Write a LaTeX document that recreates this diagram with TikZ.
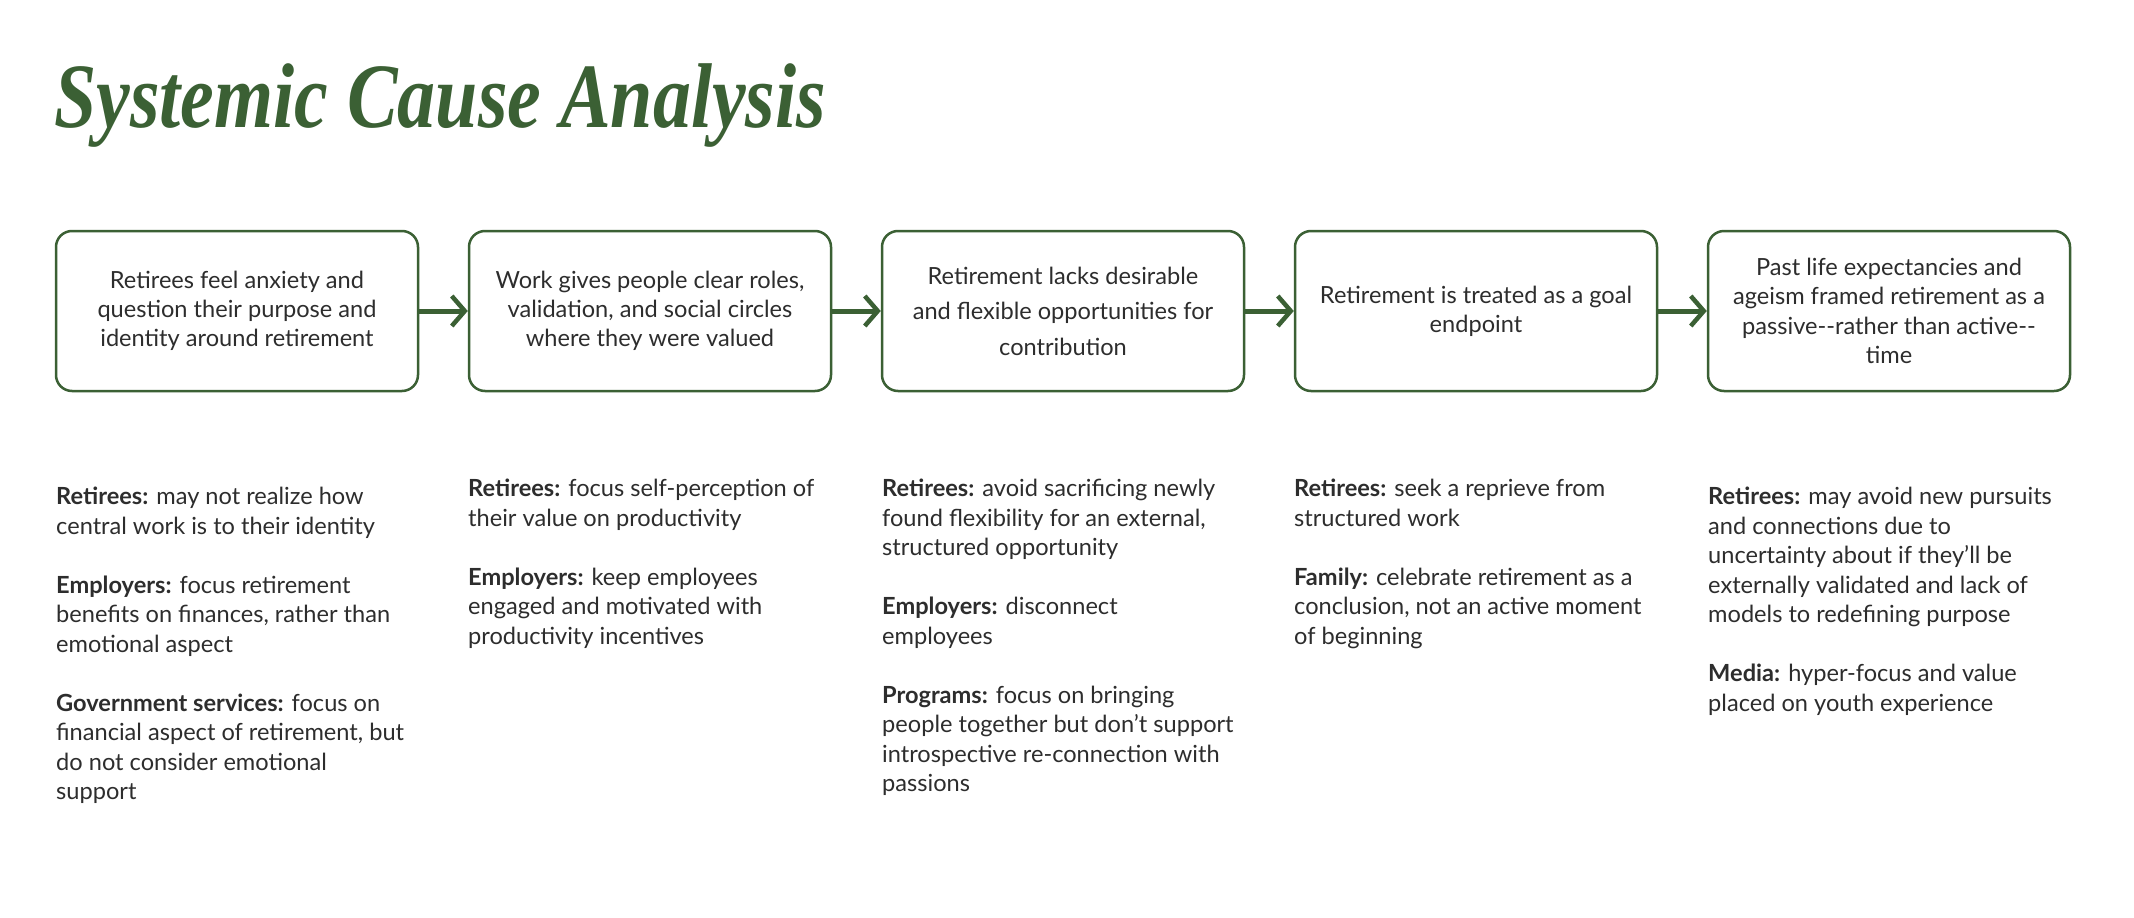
\documentclass[tikz,border=0pt]{standalone}
\usepackage{fontspec}
\setmainfont{Lato}
\newfontfamily\titlefont{Liberation Serif}
\usetikzlibrary{arrows.meta}
\definecolor{sgreen}{RGB}{59,96,52}
\definecolor{txt}{RGB}{45,45,45}
\tikzset{
  causebox/.style={draw=sgreen, line width=2.5pt, rounded corners=16pt,
    minimum width=362pt, minimum height=160pt, align=center, text=txt,
    font=\fontsize{23.6}{29.3}\selectfont, inner sep=0pt},
  flow/.style={draw=sgreen, line width=5pt,
    -{Straight Barb[length=13pt,width=30pt,line width=4.5pt]}},
  factor/.style={anchor=north west, align=left, text=txt,
    font=\fontsize{23.6}{29.5}\selectfont, inner sep=0pt},
}
\begin{document}
\begin{tikzpicture}[x=1pt,y=-1pt]
\useasboundingbox[fill=white] (0,0) rectangle (2134,918);

\node[anchor=base west, inner sep=0pt, text=sgreen,
  font=\titlefont\bfseries\itshape\fontsize{92}{92}\selectfont] (title) at (54,127)
  {\scalebox{0.825}[1]{Systemic Cause Analysis}};

\node[causebox] (b1) at (237,311) {Retirees feel anxiety and\\question their purpose and\\identity around retirement};
\node[causebox] (b2) at (650,311) {Work gives people clear roles,\\validation, and social circles\\where they were valued};
\node[causebox, font=\fontsize{23.6}{35.4}\selectfont] (b3) at (1063,311) {Retirement lacks desirable\\and flexible opportunities for\\contribution};
\node[causebox] (b4) at (1476,311) {Retirement is treated as a goal\\endpoint};
\node[causebox] (b5) at (1889,311) {Past life expectancies and\\ageism framed retirement as a\\passive-{}-rather than active-{}-\\time};

\draw[flow] (b1.east) -- (b2.west);
\draw[flow] (b2.east) -- (b3.west);
\draw[flow] (b3.east) -- (b4.west);
\draw[flow] (b4.east) -- (b5.west);

\node[factor] (f1) at (56,487) {\textbf{Retirees:} may not realize how\\central work is to their identity\\[29.5pt]
\textbf{Employers:} focus retirement\\benefits on finances, rather than\\emotional aspect\\[29.5pt]
\textbf{Government services:} focus on\\financial aspect of retirement, but\\do not consider emotional\\support};

\node[factor] (f2) at (468,479) {\textbf{Retirees:} focus self-perception of\\their value on productivity\\[29.5pt]
\textbf{Employers:} keep employees\\engaged and motivated with\\productivity incentives};

\node[factor] (f3) at (882,479) {\textbf{Retirees:} avoid sacrificing newly\\found flexibility for an external,\\structured opportunity\\[29.5pt]
\textbf{Employers:} disconnect\\employees\\[29.5pt]
\textbf{Programs:} focus on bringing\\people together but don’t support\\introspective re-connection with\\passions};

\node[factor] (f4) at (1294,479) {\textbf{Retirees:} seek a reprieve from\\structured work\\[29.5pt]
\textbf{Family:} celebrate retirement as a\\conclusion, not an active moment\\of beginning};

\node[factor] (f5) at (1708,487) {\textbf{Retirees:} may avoid new pursuits\\and connections due to\\uncertainty about if they’ll be\\externally validated and lack of\\models to redefining purpose\\[29.5pt]
\textbf{Media:} hyper-focus and value\\placed on youth experience};
\end{tikzpicture}
\end{document}
